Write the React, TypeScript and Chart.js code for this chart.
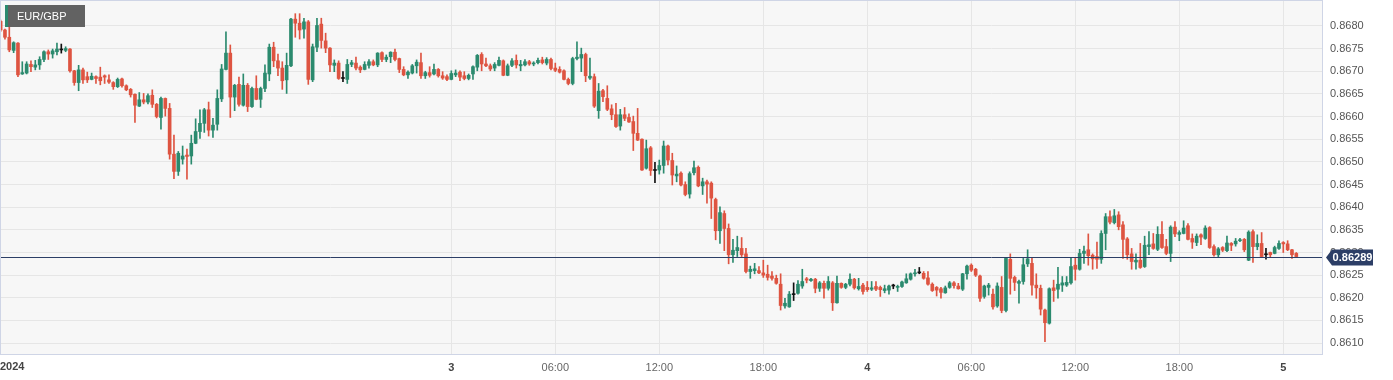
import React, { useEffect, useRef } from "react";
import { Chart, registerables } from "chart.js";

Chart.register(...registerables);

// 15-minute EUR/GBP candles, starting Jan 1 22:00, index 0..299
const opens = [
  0.86810, 0.86791, 0.86775, 0.86746, 0.86762, 0.86694, 0.86696, 0.86715, 0.86709, 0.86714,
  0.86726, 0.86743, 0.86738, 0.86743, 0.86747, 0.86746, 0.86749, 0.86701, 0.86675, 0.86703,
  0.86688, 0.86682, 0.86688, 0.86687, 0.86690, 0.86681, 0.86675, 0.86666, 0.86683, 0.86668,
  0.86660, 0.86649, 0.86623, 0.86637, 0.86632, 0.86647, 0.86627, 0.86598, 0.86640, 0.86618,
  0.86517, 0.86479, 0.86506, 0.86515, 0.86513, 0.86541, 0.86567, 0.86585, 0.86615, 0.86570,
  0.86583, 0.86639, 0.86704, 0.86740, 0.86643, 0.86671, 0.86625, 0.86669, 0.86622, 0.86662,
  0.86638, 0.86662, 0.86694, 0.86753, 0.86723, 0.86707, 0.86681, 0.86712, 0.86815, 0.86806,
  0.86793, 0.86809, 0.86681, 0.86753, 0.86804, 0.86767, 0.86751, 0.86713, 0.86718, 0.86684,
  0.86682, 0.86715, 0.86718, 0.86709, 0.86704, 0.86713, 0.86721, 0.86714, 0.86741, 0.86726,
  0.86732, 0.86742, 0.86728, 0.86704, 0.86692, 0.86696, 0.86712, 0.86719, 0.86690, 0.86697,
  0.86694, 0.86704, 0.86690, 0.86688, 0.86682, 0.86692, 0.86698, 0.86690, 0.86684, 0.86694,
  0.86709, 0.86737, 0.86716, 0.86712, 0.86707, 0.86713, 0.86723, 0.86691, 0.86713, 0.86724,
  0.86712, 0.86714, 0.86721, 0.86716, 0.86719, 0.86725, 0.86718, 0.86726, 0.86707, 0.86704,
  0.86701, 0.86682, 0.86673, 0.86728, 0.86729, 0.86737, 0.86685, 0.86688, 0.86613, 0.86657,
  0.86640, 0.86617, 0.86604, 0.86579, 0.86604, 0.86598, 0.86589, 0.86563, 0.86550, 0.86486,
  0.86531, 0.86481, 0.86482, 0.86492, 0.86535, 0.86503, 0.86469, 0.86475, 0.86450, 0.86429,
  0.86476, 0.86488, 0.86447, 0.86456, 0.86453, 0.86417, 0.86348, 0.86386, 0.86353, 0.86295,
  0.86304, 0.86309, 0.86297, 0.86258, 0.86260, 0.86260, 0.86255, 0.86252, 0.86248, 0.86243,
  0.86230, 0.86182, 0.86180, 0.86207, 0.86210, 0.86226, 0.86242, 0.86238, 0.86241, 0.86221,
  0.86232, 0.86221, 0.86233, 0.86189, 0.86232, 0.86223, 0.86230, 0.86241, 0.86220, 0.86228,
  0.86223, 0.86219, 0.86225, 0.86223, 0.86216, 0.86217, 0.86226, 0.86223, 0.86225, 0.86233,
  0.86241, 0.86253, 0.86255, 0.86254, 0.86244, 0.86230, 0.86223, 0.86220, 0.86211, 0.86223,
  0.86233, 0.86226, 0.86219, 0.86253, 0.86272, 0.86263, 0.86248, 0.86203, 0.86223, 0.86208,
  0.86182, 0.86223, 0.86172, 0.86285, 0.86245, 0.86232, 0.86236, 0.86275, 0.86276, 0.86228,
  0.86221, 0.86173, 0.86144, 0.86222, 0.86219, 0.86228, 0.86228, 0.86233, 0.86272, 0.86263,
  0.86298, 0.86306, 0.86294, 0.86291, 0.86285, 0.86342, 0.86379, 0.86366, 0.86383, 0.86361,
  0.86330, 0.86297, 0.86279, 0.86283, 0.86269, 0.86313, 0.86319, 0.86307, 0.86340, 0.86313,
  0.86298, 0.86356, 0.86340, 0.86342, 0.86359, 0.86331, 0.86322, 0.86339, 0.86331, 0.86355,
  0.86313, 0.86295, 0.86311, 0.86304, 0.86320, 0.86319, 0.86326, 0.86329, 0.86283, 0.86346,
  0.86313, 0.86320, 0.86295, 0.86300, 0.86298, 0.86309, 0.86322, 0.86319, 0.86306, 0.86298,
];

const highs = [
  0.86813, 0.86793, 0.86812, 0.86765, 0.86763, 0.86721, 0.86721, 0.86723, 0.86724, 0.86732,
  0.86745, 0.86747, 0.86749, 0.86762, 0.86760, 0.86754, 0.86750, 0.86702, 0.86713, 0.86707,
  0.86698, 0.86696, 0.86690, 0.86709, 0.86692, 0.86692, 0.86677, 0.86685, 0.86685, 0.86670,
  0.86662, 0.86650, 0.86653, 0.86651, 0.86650, 0.86659, 0.86629, 0.86643, 0.86641, 0.86629,
  0.86559, 0.86523, 0.86535, 0.86528, 0.86559, 0.86595, 0.86615, 0.86618, 0.86632, 0.86596,
  0.86659, 0.86715, 0.86787, 0.86758, 0.86671, 0.86687, 0.86694, 0.86673, 0.86665, 0.86690,
  0.86665, 0.86714, 0.86760, 0.86764, 0.86738, 0.86721, 0.86740, 0.86817, 0.86827, 0.86827,
  0.86817, 0.86812, 0.86760, 0.86817, 0.86817, 0.86784, 0.86752, 0.86725, 0.86723, 0.86699,
  0.86726, 0.86724, 0.86731, 0.86712, 0.86721, 0.86726, 0.86725, 0.86741, 0.86743, 0.86736,
  0.86743, 0.86749, 0.86729, 0.86710, 0.86701, 0.86715, 0.86725, 0.86740, 0.86700, 0.86710,
  0.86716, 0.86706, 0.86699, 0.86692, 0.86701, 0.86703, 0.86701, 0.86699, 0.86694, 0.86712,
  0.86737, 0.86741, 0.86729, 0.86716, 0.86719, 0.86731, 0.86725, 0.86716, 0.86728, 0.86736,
  0.86724, 0.86726, 0.86724, 0.86721, 0.86729, 0.86731, 0.86730, 0.86729, 0.86718, 0.86710,
  0.86703, 0.86685, 0.86731, 0.86765, 0.86751, 0.86740, 0.86729, 0.86694, 0.86673, 0.86660,
  0.86668, 0.86626, 0.86629, 0.86616, 0.86620, 0.86606, 0.86601, 0.86618, 0.86551, 0.86548,
  0.86534, 0.86499, 0.86504, 0.86546, 0.86537, 0.86519, 0.86491, 0.86478, 0.86456, 0.86478,
  0.86502, 0.86491, 0.86464, 0.86460, 0.86456, 0.86420, 0.86401, 0.86392, 0.86363, 0.86329,
  0.86336, 0.86333, 0.86309, 0.86270, 0.86276, 0.86269, 0.86283, 0.86272, 0.86258, 0.86250,
  0.86253, 0.86199, 0.86214, 0.86233, 0.86238, 0.86263, 0.86245, 0.86243, 0.86243, 0.86236,
  0.86237, 0.86247, 0.86236, 0.86248, 0.86233, 0.86232, 0.86253, 0.86243, 0.86243, 0.86232,
  0.86236, 0.86236, 0.86236, 0.86226, 0.86228, 0.86228, 0.86230, 0.86228, 0.86237, 0.86253,
  0.86255, 0.86263, 0.86267, 0.86258, 0.86258, 0.86233, 0.86225, 0.86223, 0.86226, 0.86236,
  0.86236, 0.86232, 0.86254, 0.86272, 0.86275, 0.86265, 0.86250, 0.86228, 0.86232, 0.86219,
  0.86233, 0.86247, 0.86289, 0.86297, 0.86248, 0.86239, 0.86287, 0.86306, 0.86287, 0.86253,
  0.86228, 0.86175, 0.86222, 0.86239, 0.86267, 0.86247, 0.86247, 0.86289, 0.86289, 0.86307,
  0.86314, 0.86341, 0.86297, 0.86323, 0.86348, 0.86386, 0.86392, 0.86395, 0.86390, 0.86368,
  0.86333, 0.86309, 0.86297, 0.86320, 0.86336, 0.86346, 0.86342, 0.86357, 0.86368, 0.86329,
  0.86359, 0.86368, 0.86348, 0.86370, 0.86364, 0.86341, 0.86341, 0.86341, 0.86359, 0.86357,
  0.86317, 0.86311, 0.86313, 0.86336, 0.86322, 0.86331, 0.86331, 0.86331, 0.86348, 0.86350,
  0.86339, 0.86344, 0.86309, 0.86301, 0.86314, 0.86326, 0.86324, 0.86326, 0.86307, 0.86300,
];

const lows = [
  0.86788, 0.86771, 0.86743, 0.86741, 0.86688, 0.86693, 0.86694, 0.86699, 0.86703, 0.86704,
  0.86721, 0.86726, 0.86729, 0.86736, 0.86740, 0.86743, 0.86698, 0.86669, 0.86657, 0.86673,
  0.86675, 0.86681, 0.86673, 0.86670, 0.86673, 0.86673, 0.86660, 0.86664, 0.86665, 0.86657,
  0.86643, 0.86587, 0.86622, 0.86628, 0.86628, 0.86620, 0.86597, 0.86572, 0.86601, 0.86506,
  0.86463, 0.86470, 0.86495, 0.86462, 0.86495, 0.86540, 0.86552, 0.86565, 0.86557, 0.86554,
  0.86570, 0.86633, 0.86703, 0.86598, 0.86613, 0.86623, 0.86623, 0.86611, 0.86620, 0.86637,
  0.86620, 0.86655, 0.86679, 0.86710, 0.86690, 0.86660, 0.86651, 0.86710, 0.86775, 0.86771,
  0.86773, 0.86671, 0.86677, 0.86743, 0.86751, 0.86741, 0.86699, 0.86699, 0.86682, 0.86677,
  0.86673, 0.86710, 0.86703, 0.86697, 0.86703, 0.86707, 0.86712, 0.86710, 0.86721, 0.86721,
  0.86719, 0.86723, 0.86697, 0.86690, 0.86684, 0.86694, 0.86696, 0.86684, 0.86684, 0.86687,
  0.86692, 0.86687, 0.86682, 0.86679, 0.86681, 0.86688, 0.86679, 0.86681, 0.86681, 0.86682,
  0.86701, 0.86701, 0.86710, 0.86701, 0.86701, 0.86712, 0.86690, 0.86690, 0.86710, 0.86707,
  0.86701, 0.86712, 0.86713, 0.86712, 0.86716, 0.86716, 0.86714, 0.86703, 0.86699, 0.86696,
  0.86681, 0.86670, 0.86670, 0.86725, 0.86699, 0.86677, 0.86682, 0.86620, 0.86596, 0.86633,
  0.86613, 0.86593, 0.86576, 0.86570, 0.86591, 0.86587, 0.86525, 0.86547, 0.86481, 0.86484,
  0.86470, 0.86454, 0.86473, 0.86475, 0.86493, 0.86449, 0.86456, 0.86447, 0.86425, 0.86420,
  0.86471, 0.86445, 0.86428, 0.86409, 0.86375, 0.86328, 0.86320, 0.86304, 0.86275, 0.86278,
  0.86291, 0.86291, 0.86255, 0.86243, 0.86253, 0.86253, 0.86245, 0.86239, 0.86239, 0.86230,
  0.86173, 0.86177, 0.86179, 0.86194, 0.86208, 0.86221, 0.86233, 0.86236, 0.86211, 0.86214,
  0.86199, 0.86217, 0.86172, 0.86188, 0.86221, 0.86220, 0.86226, 0.86219, 0.86217, 0.86208,
  0.86214, 0.86216, 0.86216, 0.86203, 0.86211, 0.86208, 0.86220, 0.86214, 0.86223, 0.86232,
  0.86239, 0.86248, 0.86253, 0.86241, 0.86228, 0.86214, 0.86204, 0.86199, 0.86210, 0.86221,
  0.86221, 0.86219, 0.86216, 0.86241, 0.86258, 0.86247, 0.86192, 0.86199, 0.86206, 0.86175,
  0.86179, 0.86167, 0.86169, 0.86208, 0.86216, 0.86188, 0.86230, 0.86269, 0.86206, 0.86199,
  0.86162, 0.86103, 0.86142, 0.86192, 0.86199, 0.86214, 0.86225, 0.86230, 0.86239, 0.86261,
  0.86276, 0.86272, 0.86263, 0.86265, 0.86276, 0.86306, 0.86363, 0.86363, 0.86350, 0.86287,
  0.86285, 0.86263, 0.86263, 0.86265, 0.86267, 0.86295, 0.86307, 0.86304, 0.86309, 0.86295,
  0.86280, 0.86335, 0.86326, 0.86341, 0.86328, 0.86309, 0.86315, 0.86317, 0.86329, 0.86309,
  0.86292, 0.86289, 0.86302, 0.86302, 0.86304, 0.86314, 0.86324, 0.86302, 0.86282, 0.86278,
  0.86306, 0.86289, 0.86285, 0.86289, 0.86297, 0.86307, 0.86300, 0.86304, 0.86287, 0.86289,
];

const closes = [
  0.86791, 0.86775, 0.86747, 0.86763, 0.86692, 0.86697, 0.86716, 0.86710, 0.86714, 0.86726,
  0.86743, 0.86738, 0.86745, 0.86749, 0.86747, 0.86750, 0.86701, 0.86675, 0.86703, 0.86681,
  0.86681, 0.86689, 0.86684, 0.86679, 0.86687, 0.86676, 0.86666, 0.86682, 0.86668, 0.86659,
  0.86648, 0.86625, 0.86637, 0.86632, 0.86646, 0.86627, 0.86600, 0.86640, 0.86618, 0.86517,
  0.86479, 0.86519, 0.86513, 0.86512, 0.86541, 0.86567, 0.86585, 0.86615, 0.86570, 0.86581,
  0.86640, 0.86705, 0.86740, 0.86643, 0.86669, 0.86627, 0.86669, 0.86622, 0.86662, 0.86638,
  0.86662, 0.86696, 0.86753, 0.86723, 0.86707, 0.86679, 0.86713, 0.86815, 0.86806, 0.86791,
  0.86809, 0.86682, 0.86754, 0.86801, 0.86768, 0.86751, 0.86714, 0.86718, 0.86684, 0.86684,
  0.86715, 0.86719, 0.86707, 0.86703, 0.86715, 0.86721, 0.86714, 0.86740, 0.86726, 0.86731,
  0.86742, 0.86726, 0.86704, 0.86692, 0.86698, 0.86712, 0.86720, 0.86690, 0.86697, 0.86691,
  0.86704, 0.86690, 0.86685, 0.86682, 0.86695, 0.86696, 0.86687, 0.86684, 0.86691, 0.86710,
  0.86735, 0.86716, 0.86712, 0.86705, 0.86715, 0.86724, 0.86691, 0.86712, 0.86723, 0.86714,
  0.86715, 0.86721, 0.86716, 0.86718, 0.86724, 0.86719, 0.86726, 0.86706, 0.86702, 0.86698,
  0.86682, 0.86673, 0.86728, 0.86731, 0.86737, 0.86690, 0.86689, 0.86623, 0.86656, 0.86644,
  0.86616, 0.86604, 0.86578, 0.86604, 0.86596, 0.86588, 0.86563, 0.86548, 0.86482, 0.86529,
  0.86481, 0.86481, 0.86492, 0.86535, 0.86504, 0.86471, 0.86473, 0.86449, 0.86428, 0.86474,
  0.86487, 0.86447, 0.86456, 0.86451, 0.86420, 0.86348, 0.86388, 0.86353, 0.86295, 0.86305,
  0.86311, 0.86295, 0.86258, 0.86263, 0.86264, 0.86255, 0.86250, 0.86245, 0.86243, 0.86232,
  0.86183, 0.86188, 0.86208, 0.86207, 0.86230, 0.86236, 0.86239, 0.86241, 0.86221, 0.86233,
  0.86221, 0.86236, 0.86189, 0.86232, 0.86223, 0.86230, 0.86241, 0.86222, 0.86225, 0.86214,
  0.86218, 0.86222, 0.86219, 0.86218, 0.86220, 0.86226, 0.86226, 0.86225, 0.86235, 0.86242,
  0.86253, 0.86255, 0.86255, 0.86243, 0.86230, 0.86216, 0.86217, 0.86212, 0.86222, 0.86233,
  0.86227, 0.86220, 0.86253, 0.86270, 0.86261, 0.86250, 0.86199, 0.86226, 0.86228, 0.86180,
  0.86226, 0.86172, 0.86287, 0.86243, 0.86234, 0.86236, 0.86273, 0.86286, 0.86228, 0.86222,
  0.86175, 0.86145, 0.86220, 0.86216, 0.86230, 0.86233, 0.86234, 0.86269, 0.86263, 0.86298,
  0.86303, 0.86293, 0.86286, 0.86285, 0.86342, 0.86379, 0.86367, 0.86381, 0.86357, 0.86329,
  0.86295, 0.86280, 0.86283, 0.86267, 0.86316, 0.86317, 0.86309, 0.86340, 0.86311, 0.86298,
  0.86356, 0.86341, 0.86344, 0.86354, 0.86329, 0.86323, 0.86336, 0.86334, 0.86354, 0.86311,
  0.86295, 0.86308, 0.86305, 0.86321, 0.86316, 0.86325, 0.86328, 0.86306, 0.86345, 0.86313,
  0.86320, 0.86291, 0.86295, 0.86295, 0.86311, 0.86320, 0.86319, 0.86306, 0.86295, 0.86291,
];

// x ticks (candle index -> label)
const xTickIndexes = [104, 128, 152, 176, 200, 224, 248, 272, 296];
const xTickLabels = ["3", "06:00", "12:00", "18:00", "4", "06:00", "12:00", "18:00", "5"];
const dayTickLabels = ["3", "4", "5"];
const yearLabel = "2024";

// y ticks
const yTickValues = [
  0.861, 0.8615, 0.862, 0.8625, 0.863, 0.8635, 0.864, 0.8645,
  0.865, 0.8655, 0.866, 0.8665, 0.867, 0.8675, 0.868,
];

const symbolName = "EUR/GBP";
const lastPrice = 0.86289;

const X_MIN = -0.146;
const X_MAX = 304.93;
const Y_MIN = 0.86076;
const Y_MAX = 0.86855;

const UP = "#2b8a6e";
const DOWN = "#de5441";
const FLAT = "#111111";
const FONT = "'Liberation Sans', Arial, Helvetica, sans-serif";

export default function App() {
  const ref = useRef<HTMLCanvasElement | null>(null);

  useEffect(() => {
    if (!ref.current) return;
    const colors = opens.map((o, i) =>
      closes[i] > o ? UP : closes[i] < o ? DOWN : FLAT
    );
    const bodies = opens.map((o, i) => ({ x: i, y: [o, closes[i]] }));
    const wicks = opens.map((_, i) => ({ x: i, y: [lows[i], highs[i]] }));

    const overlay = {
      id: "overlay",
      beforeDraw(chart: any) {
        const { ctx, chartArea } = chart;
        ctx.save();
        ctx.fillStyle = "#f7f7f7";
        ctx.fillRect(
          chartArea.left,
          chartArea.top,
          chartArea.right - chartArea.left,
          chartArea.bottom - chartArea.top
        );
        ctx.restore();
      },
      afterDatasetsDraw(chart: any) {
        const { ctx, chartArea } = chart;
        const y = Math.round(chart.scales.y.getPixelForValue(lastPrice)) + 0.5;
        ctx.save();
        ctx.strokeStyle = "#2c3e66";
        ctx.lineWidth = 1;
        ctx.beginPath();
        ctx.moveTo(chartArea.left, y);
        ctx.lineTo(chartArea.right, y);
        ctx.stroke();
        ctx.restore();
      },
      afterDraw(chart: any) {
        const { ctx, chartArea } = chart;
        ctx.save();
        // plot border
        ctx.strokeStyle = "#cfd5e6";
        ctx.lineWidth = 1;
        ctx.strokeRect(
          chartArea.left + 0.5,
          chartArea.top - 0.5,
          chartArea.right - chartArea.left,
          chartArea.bottom - chartArea.top + 1
        );
        // symbol label
        ctx.fillStyle = UP;
        ctx.fillRect(5, 5, 3, 22);
        ctx.fillStyle = "#626262";
        ctx.fillRect(8, 5, 77, 22);
        ctx.fillStyle = "#ffffff";
        ctx.font = `11px ${FONT}`;
        ctx.textAlign = "left";
        ctx.textBaseline = "middle";
        ctx.fillText(symbolName, 17, 16.5);
        // year label at the left of x axis
        ctx.fillStyle = "#444444";
        ctx.font = `bold 11px ${FONT}`;
        ctx.textBaseline = "top";
        ctx.fillText(yearLabel, 0, chartArea.bottom + 7);
        // price tag
        const py = Math.round(chart.scales.y.getPixelForValue(lastPrice)) + 0.5;
        const x0 = chartArea.right + 4;
        ctx.fillStyle = "#2c3e66";
        ctx.beginPath();
        ctx.moveTo(x0, py);
        ctx.lineTo(x0 + 6, py - 8);
        ctx.lineTo(x0 + 47, py - 8);
        ctx.lineTo(x0 + 47, py + 8);
        ctx.lineTo(x0 + 6, py + 8);
        ctx.closePath();
        ctx.fill();
        ctx.fillStyle = "#ffffff";
        ctx.font = `bold 11px ${FONT}`;
        ctx.textAlign = "center";
        ctx.textBaseline = "middle";
        ctx.fillText(lastPrice.toFixed(5), x0 + 26.5, py + 0.5);
        ctx.restore();
      },
    };

    const chart = new Chart(ref.current, {
      type: "bar",
      data: {
        datasets: [
          {
            data: bodies as any,
            backgroundColor: colors,
            borderWidth: 0,
            barThickness: 3,
            minBarLength: 1,
            grouped: false,
          } as any,
          {
            data: wicks as any,
            backgroundColor: colors,
            borderWidth: 0,
            barThickness: 1,
            grouped: false,
          } as any,
        ],
      },
      options: {
        animation: false,
        responsive: false,
        maintainAspectRatio: false,
        layout: { padding: { top: 1, left: 0, right: 0, bottom: 0 } },
        plugins: { legend: { display: false }, tooltip: { enabled: false } },
        scales: {
          x: {
            type: "linear",
            min: X_MIN,
            max: X_MAX,
            offset: false,
            grid: { color: "#e6e6e6", drawTicks: false, offset: false },
            border: { display: false },
            afterBuildTicks: (s: any) => {
              s.ticks = xTickIndexes.map((v) => ({ value: v }));
            },
            afterFit: (s: any) => {
              s.height = 26;
              s.paddingLeft = 0;
              s.paddingRight = 0;
            },
            ticks: {
              autoSkip: false,
              maxRotation: 0,
              padding: 7,
              callback: (v: any) => {
                const k = xTickIndexes.indexOf(Number(v));
                return k >= 0 ? xTickLabels[k] : "";
              },
              font: (c: any) => {
                const k = xTickIndexes.indexOf(c.tick ? c.tick.value : -1);
                const bold = k >= 0 && dayTickLabels.includes(xTickLabels[k]);
                return { family: FONT, size: 11, weight: bold ? "bold" : "normal" };
              },
              color: (c: any) => {
                const k = xTickIndexes.indexOf(c.tick ? c.tick.value : -1);
                return k >= 0 && dayTickLabels.includes(xTickLabels[k]) ? "#444444" : "#666666";
              },
            },
          } as any,
          y: {
            type: "linear",
            position: "right",
            min: Y_MIN,
            max: Y_MAX,
            beginAtZero: false,
            grid: { color: "#e6e6e6", drawTicks: false },
            border: { display: false },
            afterBuildTicks: (s: any) => {
              s.ticks = yTickValues.map((v) => ({ value: v }));
            },
            afterFit: (s: any) => {
              s.width = 71;
              s.paddingTop = 0;
              s.paddingBottom = 0;
            },
            ticks: {
              padding: 8,
              callback: (v: any) => Number(v).toFixed(4),
              font: { family: FONT, size: 11 },
              color: "#555555",
            },
          } as any,
        },
      },
      plugins: [overlay],
    });

    return () => chart.destroy();
  }, []);

  return (
    <div style={{ position: "absolute", left: 0, top: 0, width: 1393, height: 380, background: "#ffffff" }}>
      <canvas ref={ref} width={1393} height={380} style={{ width: 1393, height: 380, display: "block" }} />
    </div>
  );
}
